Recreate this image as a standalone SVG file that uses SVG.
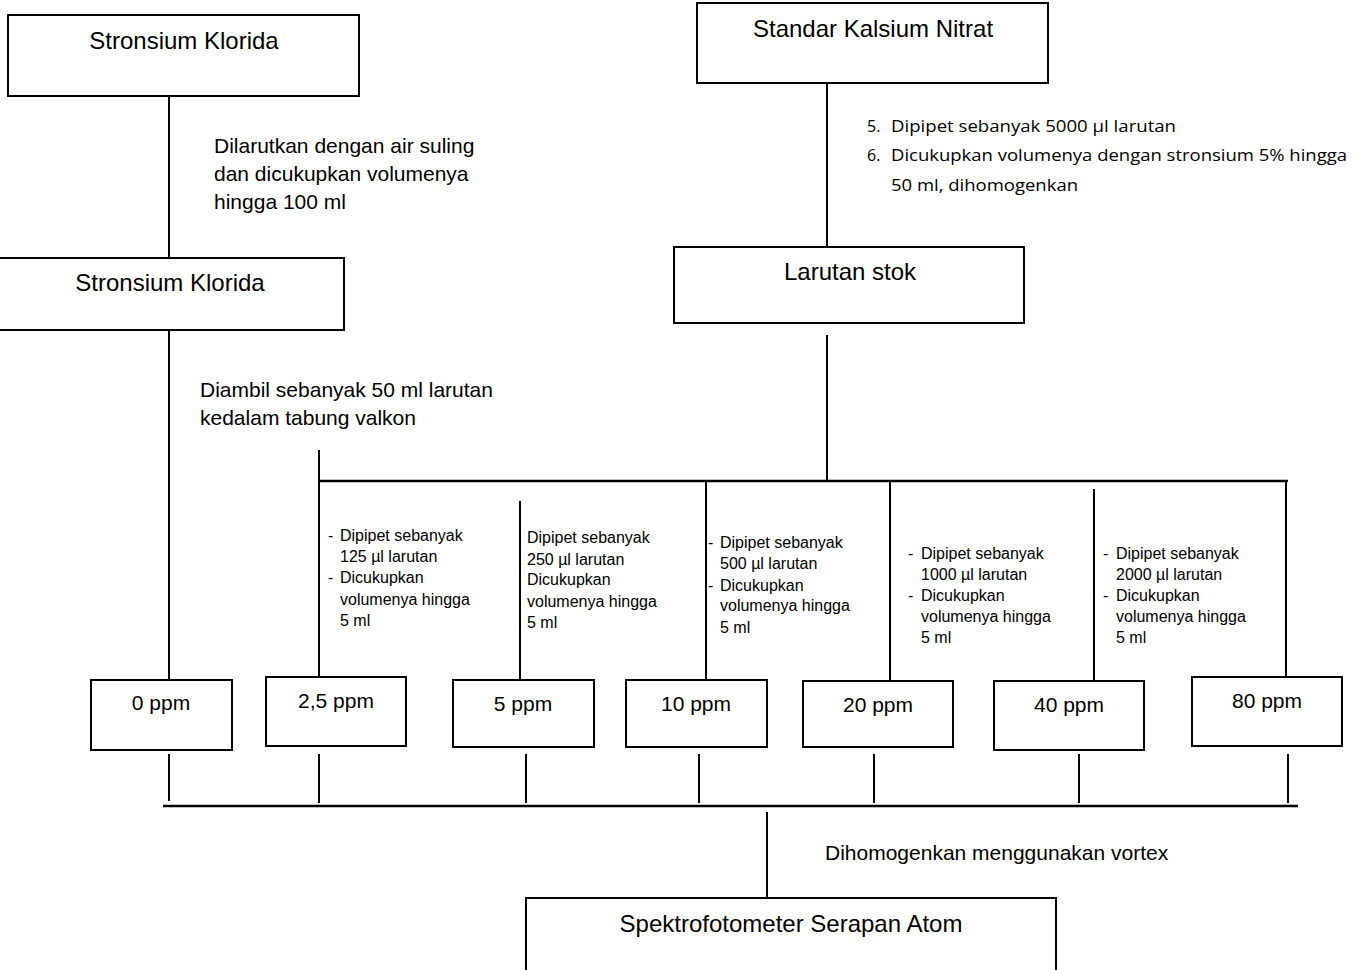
<svg xmlns="http://www.w3.org/2000/svg" width="1355" height="970" viewBox="0 0 1355 970">
<style>
.box{fill:#fff;stroke:#000;stroke-width:2}
.ln{stroke:#000;stroke-width:2;fill:none}
.hl{stroke:#000;stroke-width:2.5;fill:none}
.t24{font-family:"Liberation Sans",Arial,sans-serif;font-size:24px;fill:#000}
.t21{font-family:"Liberation Sans",Arial,sans-serif;font-size:21px;fill:#000}
.t16{font-family:"Liberation Sans",Arial,sans-serif;font-size:16px;fill:#000}
.cal{font-family:"Open Sans","Noto Sans",sans-serif;font-size:16px;fill:#000}
.c{text-anchor:middle}
</style>
<rect width="1355" height="970" fill="#fff"/>
<g id="connectors">
<line class="ln" x1="169" y1="96" x2="169" y2="258"/>
<line class="ln" x1="169" y1="330" x2="169" y2="680"/>
<line class="ln" x1="827" y1="83" x2="827" y2="247"/>
<line class="ln" x1="827" y1="335" x2="827" y2="481"/>
<line class="hl" x1="319" y1="481" x2="1288" y2="481"/>
<line class="ln" x1="319" y1="450" x2="319" y2="677"/>
<line class="ln" x1="520" y1="501" x2="520" y2="680"/>
<line class="ln" x1="706" y1="481" x2="706" y2="680"/>
<line class="ln" x1="890" y1="481" x2="890" y2="681"/>
<line class="ln" x1="1094" y1="489" x2="1094" y2="681"/>
<line class="ln" x1="1286" y1="481" x2="1286" y2="677"/>
<line class="ln" x1="169" y1="754" x2="169" y2="801"/>
<line class="ln" x1="319" y1="754" x2="319" y2="803"/>
<line class="ln" x1="526" y1="754" x2="526" y2="803"/>
<line class="ln" x1="699" y1="754" x2="699" y2="803"/>
<line class="ln" x1="874" y1="754" x2="874" y2="803"/>
<line class="ln" x1="1079" y1="754" x2="1079" y2="803"/>
<line class="ln" x1="1288" y1="754" x2="1288" y2="803"/>
<line class="hl" x1="163" y1="806" x2="1298" y2="806"/>
<line class="ln" x1="767" y1="812" x2="767" y2="898"/>
</g>
<g id="labels">
<text class="t21" x="214" y="153">Dilarutkan dengan air suling</text>
<text class="t21" x="214" y="181">dan dicukupkan volumenya</text>
<text class="t21" x="214" y="209">hingga 100 ml</text>
<text class="t21" x="200" y="397">Diambil sebanyak 50 ml larutan</text>
<text class="t21" x="200" y="425">kedalam tabung valkon</text>
<text class="cal" x="867" y="132">5.</text>
<text class="cal" x="891" y="132" textLength="285" lengthAdjust="spacingAndGlyphs">Dipipet sebanyak 5000 µl larutan</text>
<text class="cal" x="867" y="161">6.</text>
<text class="cal" x="891" y="161" textLength="456" lengthAdjust="spacingAndGlyphs">Dicukupkan volumenya dengan stronsium 5% hingga</text>
<text class="cal" x="891" y="191" textLength="187" lengthAdjust="spacingAndGlyphs">50 ml, dihomogenkan</text>
<text class="t16" x="328" y="541">-</text>
<text class="t16" x="340" y="541">Dipipet sebanyak</text>
<text class="t16" x="340" y="562">125 µl larutan</text>
<text class="t16" x="328" y="583">-</text>
<text class="t16" x="340" y="583">Dicukupkan</text>
<text class="t16" x="340" y="605">volumenya hingga</text>
<text class="t16" x="340" y="626">5 ml</text>
<text class="t16" x="527" y="543">Dipipet sebanyak</text>
<text class="t16" x="527" y="565">250 µl larutan</text>
<text class="t16" x="527" y="585">Dicukupkan</text>
<text class="t16" x="527" y="607">volumenya hingga</text>
<text class="t16" x="527" y="628">5 ml</text>
<text class="t16" x="708" y="548">-</text>
<text class="t16" x="720" y="548">Dipipet sebanyak</text>
<text class="t16" x="720" y="569">500 µl larutan</text>
<text class="t16" x="708" y="591">-</text>
<text class="t16" x="720" y="591">Dicukupkan</text>
<text class="t16" x="720" y="611">volumenya hingga</text>
<text class="t16" x="720" y="633">5 ml</text>
<text class="t16" x="908" y="559">-</text>
<text class="t16" x="921" y="559">Dipipet sebanyak</text>
<text class="t16" x="921" y="580">1000 µl larutan</text>
<text class="t16" x="908" y="601">-</text>
<text class="t16" x="921" y="601">Dicukupkan</text>
<text class="t16" x="921" y="622">volumenya hingga</text>
<text class="t16" x="921" y="643">5 ml</text>
<text class="t16" x="1103" y="559">-</text>
<text class="t16" x="1116" y="559">Dipipet sebanyak</text>
<text class="t16" x="1116" y="580">2000 µl larutan</text>
<text class="t16" x="1103" y="601">-</text>
<text class="t16" x="1116" y="601">Dicukupkan</text>
<text class="t16" x="1116" y="622">volumenya hingga</text>
<text class="t16" x="1116" y="643">5 ml</text>
<text class="t21" x="825" y="860">Dihomogenkan menggunakan vortex</text>
</g>
<g id="n-stronsium1"><rect class="box" x="8" y="15" width="351" height="81"/><text class="t24 c" x="184" y="49">Stronsium Klorida</text></g>
<g id="n-stronsium2"><rect class="box" x="-2" y="258" width="346" height="72"/><text class="t24 c" x="170" y="291">Stronsium Klorida</text></g>
<g id="n-standar"><rect class="box" x="697" y="3" width="351" height="80"/><text class="t24 c" x="873" y="37">Standar Kalsium Nitrat</text></g>
<g id="n-stok"><rect class="box" x="674" y="247" width="350" height="76"/><text class="t24 c" x="850" y="280">Larutan stok</text></g>
<g id="n-0ppm"><rect class="box" x="91" y="680" width="141" height="70"/><text class="t21 c" x="161" y="710">0 ppm</text></g>
<g id="n-2_5ppm"><rect class="box" x="266" y="677" width="140" height="69"/><text class="t21 c" x="336" y="708">2,5 ppm</text></g>
<g id="n-5ppm"><rect class="box" x="453" y="680" width="141" height="67"/><text class="t21 c" x="523" y="711">5 ppm</text></g>
<g id="n-10ppm"><rect class="box" x="626" y="680" width="141" height="67"/><text class="t21 c" x="696" y="711">10 ppm</text></g>
<g id="n-20ppm"><rect class="box" x="803" y="681" width="150" height="66"/><text class="t21 c" x="878" y="712">20 ppm</text></g>
<g id="n-40ppm"><rect class="box" x="994" y="681" width="150" height="69"/><text class="t21 c" x="1069" y="712">40 ppm</text></g>
<g id="n-80ppm"><rect class="box" x="1192" y="677" width="150" height="69"/><text class="t21 c" x="1267" y="708">80 ppm</text></g>
<g id="n-spektro"><rect class="box" x="526" y="898" width="530" height="80"/><text class="t24 c" x="791" y="932">Spektrofotometer Serapan Atom</text></g>
</svg>
